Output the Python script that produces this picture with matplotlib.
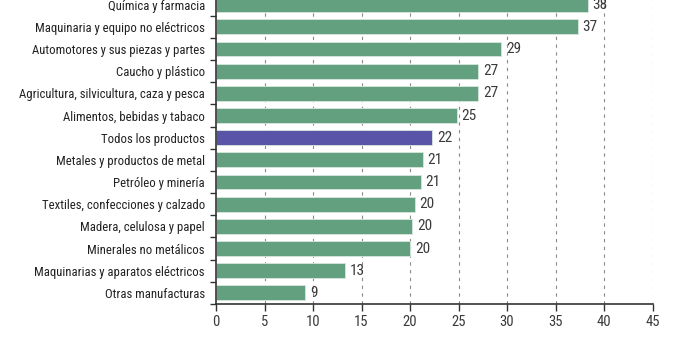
import matplotlib

matplotlib.use("Agg")

import matplotlib.pyplot as plt
from matplotlib import font_manager

# 窄体字体优先（参考图是 condensed 字体），找不到就退回 DejaVu
_names = {f.name for f in font_manager.fontManager.ttflist}
_family = [n for n in ("Roboto Condensed", "Liberation Sans Narrow", "Liberation Sans") if n in _names]
plt.rcParams["font.family"] = _family + ["DejaVu Sans"]

categories = [
    "Química y farmacia",
    "Maquinaria y equipo no eléctricos",
    "Automotores y sus piezas y partes",
    "Caucho y plástico",
    "Agricultura, silvicultura, caza y pesca",
    "Alimentos, bebidas y tabaco",
    "Todos los productos",
    "Metales y productos de metal",
    "Petróleo y minería",
    "Textiles, confecciones y calzado",
    "Madera, celulosa y papel",
    "Minerales no metálicos",
    "Maquinarias y aparatos eléctricos",
    "Otras manufacturas",
]
values = [38.3, 37.3, 29.4, 27.0, 27.0, 24.8, 22.3, 21.3, 21.1, 20.5, 20.2, 20.0, 13.3, 9.2]
labels = ["38", "37", "29", "27", "27", "25", "22", "21", "21", "20", "20", "20", "13", "9"]
highlight = "Todos los productos"
x_ticks = [0, 5, 10, 15, 20, 25, 30, 35, 40, 45]

GREEN = "#62a07f"
PURPLE = "#5a54a8"
DARK = "#333333"

fig = plt.figure(figsize=(6.92, 3.46), dpi=100)
# 每个类别约 22.2 px，顶端那一条被画布裁掉一点（与参考一致）
row_px = 22.17
n = len(categories)
ax_h = n * row_px
ax = fig.add_axes([216 / 692, (346 - 304) / 346, (652.5 - 216) / 692, ax_h / 346])

ys = [n - 1 - i for i in range(n)]
colors = [PURPLE if c == highlight else GREEN for c in categories]

for x in x_ticks[1:]:
    ax.axvline(x, color="#8a8a8a", linewidth=0.8, linestyle=(0, (3, 4)), zorder=0)

ax.barh(ys, values, height=0.67, color=colors, edgecolor="#d8e8de", linewidth=0.6, zorder=2)

for y, v, lab in zip(ys, values, labels):
    ax.text(v + 0.5, y, lab, va="center", ha="left", fontsize=11, color="#3a3a3a", zorder=3)

ax.set_xlim(0, 45)
ax.set_ylim(-0.5, n - 0.5)
ax.set_xticks(x_ticks)
ax.set_xticklabels([str(t) for t in x_ticks], fontsize=10.5, color="#3a3a3a")
ax.set_yticks(ys)
ax.set_yticklabels(categories, fontsize=9.2, color="#222222")
ax.set_yticks([y + 0.5 for y in ys[1:]] + [-0.5], minor=True)

ax.tick_params(axis="y", which="major", length=0, pad=8)
ax.tick_params(axis="y", which="minor", length=4, width=1.0, color=DARK)
ax.tick_params(axis="x", length=5, width=1.0, color=DARK, pad=3)

for side in ("top", "right"):
    ax.spines[side].set_visible(False)
for side in ("left", "bottom"):
    ax.spines[side].set_color(DARK)
    ax.spines[side].set_linewidth(1.2)

fig.savefig("out.png", dpi=100)
